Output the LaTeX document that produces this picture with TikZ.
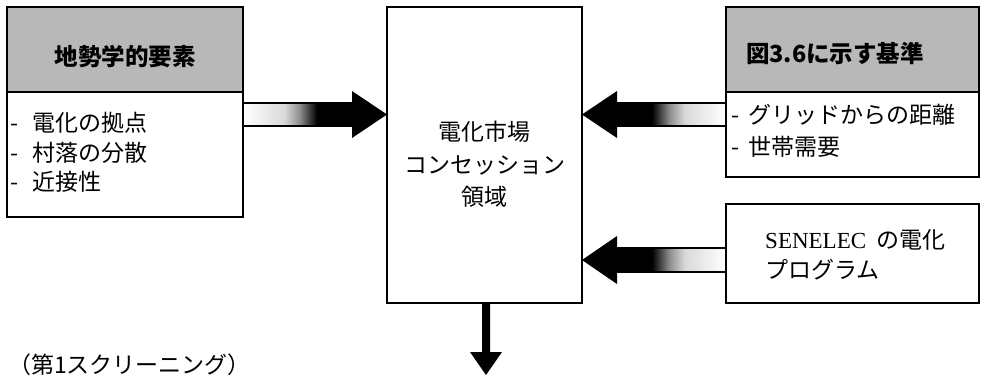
\documentclass[tikz,border=0pt]{standalone}
\usepackage{fontspec}
\setmainfont{Noto Sans CJK JP}
\newfontfamily\serifont{Liberation Serif}
\usetikzlibrary{calc}
\pgfdeclarehorizontalshading{arrowshade}{100bp}{color(0bp)=(white); color(25bp)=(white); color(44bp)=(white!85!black); color(51bp)=(black!45); color(59bp)=(black); color(75bp)=(black); color(100bp)=(black)}
% #1 start, #2 tip, #3 half shaft, #4 half head, #5 head length, #6 shading angle
\newcommand{\fatarrow}[6]{%
  \coordinate (fh) at ($(#2)!#5!(#1)$);
  \shade[shading=arrowshade, shading angle=#6, draw=black, line width=1.3pt]
    ($(#1)!#3!90:(#2)$) -- ($(fh)!#3!90:(#2)$) -- ($(fh)!#3!-90:(#2)$) -- ($(#1)!#3!-90:(#2)$) -- cycle;
  \fill[black] ($(fh)!#4!90:(#2)$) -- (#2) -- ($(fh)!#4!-90:(#2)$) -- cycle;
}
\begin{document}
\begin{tikzpicture}[x=1pt,y=-1pt,
  box/.style={draw=black, line width=1.3pt, inner sep=0pt, outer sep=0pt},
  headbox/.style={box, fill=black!28},
  txt/.style={inner sep=0pt, font=\fontsize{23}{30}\selectfont},
  title/.style={inner sep=0pt, font=\fontsize{23.5}{30}\selectfont\bfseries},
]
\useasboundingbox (0,0) rectangle (984,376);

% boxes
\node[headbox, minimum width=236pt, minimum height=85pt] (geohead) at (125,49.5) {};
\node[box, minimum width=236pt, minimum height=125pt] (geobody) at (125,154.5) {};
\node[box, minimum width=195pt, minimum height=296pt] (market) at (484.5,155) {};
\node[headbox, minimum width=253pt, minimum height=85pt] (crithead) at (852.5,49.5) {};
\node[box, minimum width=253pt, minimum height=85pt] (critbody) at (852.5,134.5) {};
\node[box, minimum width=253pt, minimum height=99pt] (senelec) at (852.5,253.5) {};

% texts
\node[title] (geotitle) at (125,57) {地勢学的要素};
\node[txt, align=left, anchor=west, font=\fontsize{23}{29.5}\selectfont] (geolist) at (10,152.5) {-\hspace{14pt}電化の拠点\\-\hspace{14pt}村落の分散\\-\hspace{14pt}近接性};
\node[txt, align=center, font=\fontsize{23}{32.5}\selectfont] (markettext) at (484.5,164.5) {電化市場\\コンセッション\\領域};
\node[title] (crittitle) at (835,54) {図3.6に示す基準};
\node[txt, align=left, anchor=west, font=\fontsize{23}{32}\selectfont] (critlist) at (731,131) {-\hspace{9pt}グリッドからの距離\\-\hspace{9pt}世帯需要};
\node[txt, align=left, anchor=west] (senelectext) at (765,255) {{\serifont SENELEC}\ \ の電化\\プログラム};
\node[txt, anchor=west] (screen) at (8,365) {（第1スクリーニング）};

% arrows
\coordinate (a1s) at ($(geobody.north east)+(0,22.5)$);
\coordinate (a1t) at (market.west |- a1s);
\fatarrow{a1s}{a1t}{11.5pt}{23.5pt}{35pt}{0}

\coordinate (a2s) at ($(critbody.north west)+(0,22.5)$);
\coordinate (a2t) at (market.east |- a2s);
\fatarrow{a2s}{a2t}{11.5pt}{23.5pt}{35pt}{180}

\coordinate (a3s) at ($(senelec.west)+(0,6.5)$);
\coordinate (a3t) at (market.east |- a3s);
\fatarrow{a3s}{a3t}{12pt}{24pt}{35pt}{180}

\coordinate (a4s) at ($(market.south)+(1.5,0)$);
\coordinate (a4t) at (486,375);
\coordinate (dh) at ($(a4t)!23pt!(a4s)$);
\fill[black] ($(a4s)!4pt!90:(a4t)$) -- ($(dh)!4pt!90:(a4t)$) -- ($(dh)!16pt!90:(a4t)$) -- (a4t)
  -- ($(dh)!16pt!-90:(a4t)$) -- ($(dh)!4pt!-90:(a4t)$) -- ($(a4s)!4pt!-90:(a4t)$) -- cycle;
\end{tikzpicture}
\end{document}
